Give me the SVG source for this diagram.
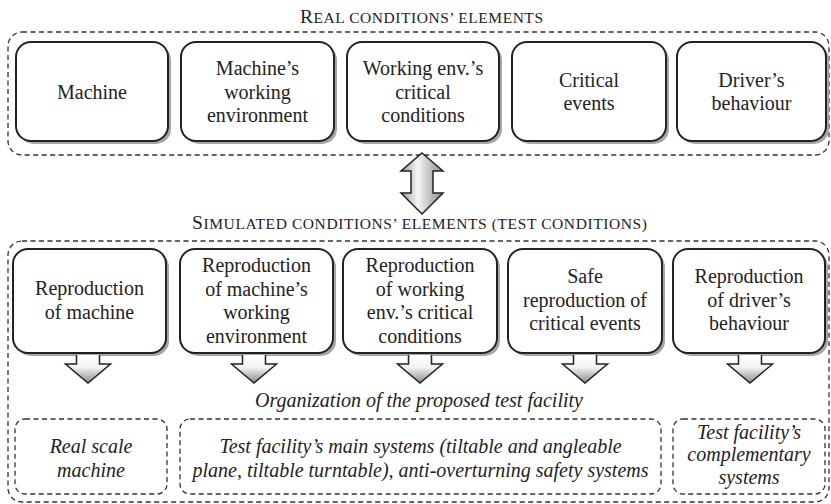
<svg xmlns="http://www.w3.org/2000/svg" width="831" height="504" viewBox="0 0 831 504" font-family="'Liberation Serif', 'Times New Roman', serif">
<defs>
<linearGradient id="gDown" x1="0" y1="0" x2="0" y2="1">
<stop offset="0" stop-color="#ffffff"/>
<stop offset="0.45" stop-color="#f2f2f2"/>
<stop offset="1" stop-color="#8a8a8a"/>
</linearGradient>
<linearGradient id="gBoth" x1="0" y1="0" x2="1" y2="0">
<stop offset="0" stop-color="#9a9a9a"/>
<stop offset="0.4" stop-color="#f6f6f6"/>
<stop offset="1" stop-color="#8a8a8a"/>
</linearGradient>
<path id="down" d="M-11.5,0 V9 H-22.5 L0,28 L22.5,9 H11.5 V0"/>
</defs>
<style>
text, tspan {font-family: 'Liberation Serif', 'Times New Roman', serif; fill: #222;}
.t {font-size: 20px; text-anchor: middle;}
.i {font-size: 20px; font-style: italic; text-anchor: middle;}
.cont {fill: none; stroke: #333; stroke-width: 1.3; stroke-dasharray: 5 3.5;}
.sh {fill: #a6a6a6;}
.bx {fill: #fff; stroke: #222; stroke-width: 2;}
.arr {fill: url(#gDown); stroke: #222; stroke-width: 1.5;}
.ttl {font-size: 15.5px;}
.cap {font-size: 19.5px;}
</style>

<g id="containers">
<rect class="cont" x="8" y="32" width="821" height="123" rx="14"/>
<rect class="cont" x="8" y="241" width="821" height="261" rx="14"/>
</g>

<g id="titles">
<text x="300" y="23" textLength="243" lengthAdjust="spacing"><tspan class="cap">R</tspan><tspan class="ttl">EAL CONDITIONS’ ELEMENTS</tspan></text>
<text x="192" y="229" textLength="455" lengthAdjust="spacing"><tspan class="cap">S</tspan><tspan class="ttl">IMULATED CONDITIONS’ ELEMENTS (TEST CONDITIONS)</tspan></text>
</g>

<g id="real-machine">
<rect class="sh" x="19" y="45" width="152" height="99" rx="15"/>
<rect class="bx" x="16" y="42" width="152" height="99" rx="15"/>
<text class="t" x="92" y="99">Machine</text>
</g>
<g id="real-environment">
<rect class="sh" x="184" y="45" width="153" height="99" rx="15"/>
<rect class="bx" x="181" y="42" width="153" height="99" rx="15"/>
<text class="t" x="257.5" y="75">Machine’s</text>
<text class="t" x="257.5" y="98.5">working</text>
<text class="t" x="257.5" y="122">environment</text>
</g>
<g id="real-critical-conditions">
<rect class="sh" x="350" y="45" width="152" height="99" rx="15"/>
<rect class="bx" x="347" y="42" width="152" height="99" rx="15"/>
<text class="t" x="423" y="75">Working env.’s</text>
<text class="t" x="423" y="98.5">critical</text>
<text class="t" x="423" y="122">conditions</text>
</g>
<g id="real-critical-events">
<rect class="sh" x="515" y="45" width="154" height="99" rx="15"/>
<rect class="bx" x="512" y="42" width="154" height="99" rx="15"/>
<text class="t" x="589" y="87">Critical</text>
<text class="t" x="589" y="110">events</text>
</g>
<g id="real-driver">
<rect class="sh" x="680" y="45" width="149" height="99" rx="15"/>
<rect class="bx" x="677" y="42" width="149" height="99" rx="15"/>
<text class="t" x="751.5" y="87">Driver’s</text>
<text class="t" x="751.5" y="110">behaviour</text>
</g>

<g id="sim-machine">
<rect class="sh" x="16" y="252" width="153" height="104" rx="15"/>
<rect class="bx" x="13" y="249" width="153" height="104" rx="15"/>
<text class="t" x="89.5" y="295">Reproduction</text>
<text class="t" x="89.5" y="318.5">of machine</text>
</g>
<g id="sim-environment">
<rect class="sh" x="183" y="252" width="153" height="104" rx="15"/>
<rect class="bx" x="180" y="249" width="153" height="104" rx="15"/>
<text class="t" x="256.5" y="272">Reproduction</text>
<text class="t" x="256.5" y="295.5">of machine’s</text>
<text class="t" x="256.5" y="319">working</text>
<text class="t" x="256.5" y="342.5">environment</text>
</g>
<g id="sim-critical-conditions">
<rect class="sh" x="346" y="252" width="154" height="104" rx="15"/>
<rect class="bx" x="343" y="249" width="154" height="104" rx="15"/>
<text class="t" x="420" y="272">Reproduction</text>
<text class="t" x="420" y="295.5">of working</text>
<text class="t" x="420" y="319">env.’s critical</text>
<text class="t" x="420" y="342.5">conditions</text>
</g>
<g id="sim-critical-events">
<rect class="sh" x="511" y="252" width="154" height="104" rx="15"/>
<rect class="bx" x="508" y="249" width="154" height="104" rx="15"/>
<text class="t" x="585" y="283">Safe</text>
<text class="t" x="585" y="306.5">reproduction of</text>
<text class="t" x="585" y="330">critical events</text>
</g>
<g id="sim-driver">
<rect class="sh" x="676" y="252" width="152" height="104" rx="15"/>
<rect class="bx" x="673" y="249" width="152" height="104" rx="15"/>
<text class="t" x="749" y="283">Reproduction</text>
<text class="t" x="749" y="306.5">of driver’s</text>
<text class="t" x="749" y="330">behaviour</text>
</g>

<g id="connectors">
<path d="M422,153 L443,171 H433 V193 H443 L422,214 L401,193 H411 V171 H401 Z" fill="url(#gBoth)" stroke="#222" stroke-width="1.5"/>
<use href="#down" class="arr" x="88" y="355"/>
<use href="#down" class="arr" x="254" y="355"/>
<use href="#down" class="arr" x="420" y="355"/>
<use href="#down" class="arr" x="585" y="355"/>
<use href="#down" class="arr" x="750" y="355"/>
</g>

<g id="organization-label">
<text class="i" x="419" y="407">Organization of the proposed test facility</text>
</g>

<g id="org-real-scale">
<rect class="cont" x="15" y="419" width="152" height="75" rx="10"/>
<text class="i" x="91" y="453">Real scale</text>
<text class="i" x="91" y="476.5">machine</text>
</g>
<g id="org-main-systems">
<rect class="cont" x="180" y="419" width="481" height="75" rx="10"/>
<text class="i" x="420.5" y="453">Test facility’s main systems (tiltable and angleable</text>
<text class="i" x="420.5" y="476.5">plane, tiltable turntable), anti-overturning safety systems</text>
</g>
<g id="org-complementary">
<rect class="cont" x="673" y="419" width="152" height="75" rx="10"/>
<text class="i" x="749" y="438.5">Test facility’s</text>
<text class="i" x="749" y="461">complementary</text>
<text class="i" x="749" y="483.5">systems</text>
</g>
</svg>
